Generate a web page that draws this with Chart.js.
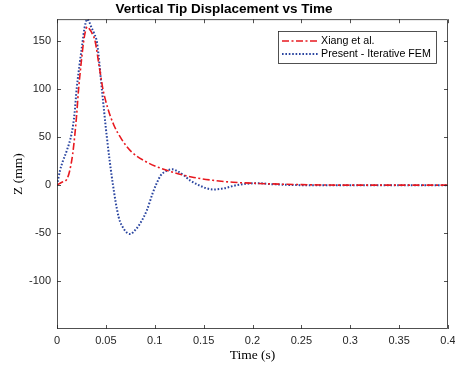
<!DOCTYPE html>
<html>
<head>
<meta charset="UTF-8">
<script src="https://cdn.jsdelivr.net/npm/chart.js"></script>
<style>
  html, body { margin: 0; padding: 0; background: #fff; }
  #wrap { width: 455px; height: 371px; position: relative; }
</style>
</head>
<body>
<div id="wrap"><canvas id="c" width="455" height="371"></canvas></div>
<script>
// Xiang et al.
const xiangT = [0, 0.005, 0.01, 0.013, 0.016, 0.018, 0.02, 0.022, 0.025, 0.027, 0.029, 0.031, 0.033, 0.036, 0.039, 0.043, 0.047, 0.052, 0.058, 0.066, 0.076, 0.09, 0.105, 0.12, 0.14, 0.16, 0.18, 0.2, 0.25, 0.3, 0.35, 0.4];
const xiangZ = [0, 3, 6, 15, 32, 50, 72, 99, 130, 148, 160, 165, 163, 158, 150, 125, 100, 80, 63, 48, 35, 25, 18, 13, 8, 5, 3, 2, 0.5, 0, 0, 0];

// Present - Iterative FEM
const femT = [0, 0.003, 0.006, 0.01, 0.015, 0.018, 0.02, 0.023, 0.026, 0.028, 0.031, 0.033, 0.035, 0.038, 0.041, 0.046, 0.051, 0.057, 0.063, 0.068, 0.072, 0.075, 0.079, 0.085, 0.092, 0.098, 0.102, 0.106, 0.112, 0.118, 0.124, 0.13, 0.136, 0.145, 0.152, 0.16, 0.17, 0.184, 0.195, 0.205, 0.22, 0.25, 0.3, 0.35, 0.4];
const femZ = [0, 15, 25, 36, 54, 75, 99, 125, 148, 163, 173, 170, 165, 158, 148, 99, 50, 2, -33, -45, -50, -51, -48, -40, -26, -8, 2, 10, 15, 16.5, 14, 10, 5, 0, -3, -4.5, -3.5, 0, 1.5, 2, 1, 0, 0, 0, 0];

const xTicks = [0, 0.05, 0.1, 0.15, 0.2, 0.25, 0.3, 0.35, 0.4];
const yTicks = [-100, -50, 0, 50, 100, 150];

const AX = '#262626';
const toPts = (t, z) => t.map((v, i) => ({ x: v, y: z[i] }));

// box with inward ticks, MATLAB style
const boxPlugin = {
  id: 'box',
  afterDatasetsDraw(chart) {
    const { ctx, chartArea: a, scales } = chart;
    ctx.save();
    ctx.strokeStyle = AX;
    ctx.lineWidth = 0.8;
    ctx.strokeRect(a.left + 0.5, a.top + 0.5, a.right - a.left - 1, a.bottom - a.top - 1);
    const L = 4;
    ctx.beginPath();
    xTicks.forEach(v => {
      const px = Math.round(scales.x.getPixelForValue(v)) + 0.5;
      ctx.moveTo(px, a.bottom); ctx.lineTo(px, a.bottom - L);
      ctx.moveTo(px, a.top); ctx.lineTo(px, a.top + L);
    });
    yTicks.forEach(v => {
      const py = Math.round(scales.y.getPixelForValue(v)) + 0.5;
      ctx.moveTo(a.left, py); ctx.lineTo(a.left + L, py);
      ctx.moveTo(a.right, py); ctx.lineTo(a.right - L, py);
    });
    ctx.stroke();
    ctx.restore();
  }
};

// legend box in the upper right
const legendPlugin = {
  id: 'boxLegend',
  afterDraw(chart) {
    const { ctx } = chart;
    const x0 = 278, y0 = 31, w = 158, h = 32;
    ctx.save();
    ctx.fillStyle = '#fff';
    ctx.fillRect(x0, y0, w, h);
    ctx.strokeStyle = AX;
    ctx.lineWidth = 0.8;
    ctx.strokeRect(x0 + 0.5, y0 + 0.5, w, h);
    chart.data.datasets.forEach((ds, i) => {
      const y = y0 + 10 + i * 13;
      ctx.strokeStyle = ds.borderColor;
      ctx.lineWidth = ds.borderWidth;
      ctx.setLineDash(ds.borderDash);
      ctx.beginPath();
      ctx.moveTo(x0 + 4, y); ctx.lineTo(x0 + 40, y);
      ctx.stroke();
      ctx.setLineDash([]);
      ctx.fillStyle = '#000';
      ctx.font = '10.7px "Liberation Sans", Arial, sans-serif';
      ctx.textBaseline = 'middle';
      ctx.textAlign = 'left';
      ctx.fillText(ds.label, x0 + 43, y);
    });
    ctx.restore();
  }
};

new Chart(document.getElementById('c'), {
  type: 'line',
  data: {
    datasets: [
      {
        label: 'Xiang et al.',
        data: toPts(xiangT, xiangZ),
        borderColor: '#e8191f',
        borderWidth: 1.6,
        borderDash: [7, 2.5, 2, 2.5],
        pointRadius: 0,
        cubicInterpolationMode: 'monotone',
        fill: false
      },
      {
        label: 'Present - Iterative FEM',
        data: toPts(femT, femZ),
        borderColor: '#2a45a0',
        borderWidth: 2,
        borderDash: [1.6, 1.8],
        pointRadius: 0,
        cubicInterpolationMode: 'monotone',
        fill: false
      }
    ]
  },
  options: {
    responsive: false,
    animation: false,
    layout: { padding: { left: 0, right: 7, top: 0, bottom: 0 } },
    scales: {
      x: {
        type: 'linear',
        min: 0, max: 0.4,
        afterBuildTicks: s => { s.ticks = xTicks.map(v => ({ value: v })); },
        afterFit: s => { s.height = 42; s.paddingLeft = 0; s.paddingRight = 0; },
        grid: { display: false, drawTicks: false },
        border: { display: false },
        ticks: {
          color: AX, padding: 5,
          font: { family: '"Liberation Sans", Arial, sans-serif', size: 11 },
          maxRotation: 0,
          callback: v => String(+v.toFixed(2))
        },
        title: {
          display: true, text: 'Time (s)', color: '#000',
          font: { family: '"Liberation Serif", "DejaVu Serif", serif', size: 13.5 },
          padding: { top: 0, bottom: 7 }
        }
      },
      y: {
        min: -150, max: 173,
        afterBuildTicks: s => { s.ticks = yTicks.map(v => ({ value: v })); },
        afterFit: s => { s.width = 57; },
        grid: { display: false, drawTicks: false },
        border: { display: false },
        ticks: {
          color: AX, padding: 6,
          font: { family: '"Liberation Sans", Arial, sans-serif', size: 11 }
        },
        title: {
          display: true, text: 'Z (mm)', color: '#000',
          font: { family: '"Liberation Serif", "DejaVu Serif", serif', size: 13.5 },
          padding: { top: 10, bottom: 0 }
        }
      }
    },
    plugins: {
      legend: { display: false },
      tooltip: { enabled: false },
      title: {
        display: true,
        text: 'Vertical Tip Displacement vs Time',
        color: '#000',
        font: { family: '"Liberation Sans", Arial, sans-serif', size: 13.5, weight: 'bold' },
        padding: { top: 1, bottom: 2 }
      }
    }
  },
  plugins: [boxPlugin, legendPlugin]
});
</script>
</body>
</html>
